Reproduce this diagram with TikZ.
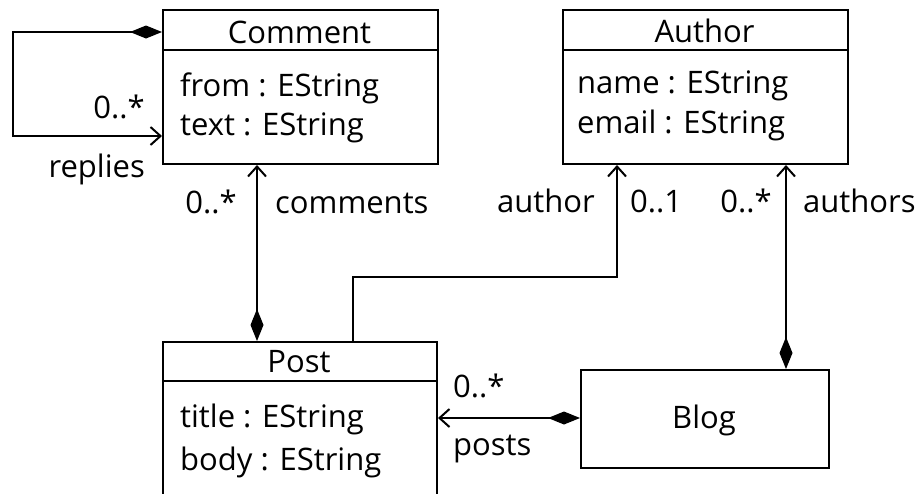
\documentclass[tikz,border=0pt]{standalone}
\usepackage{fontspec}
\setmainfont{Open Sans}
\usetikzlibrary{arrows.meta}
\begin{document}
\begin{tikzpicture}[x={(1pt,0)},y={(0,-1pt)},
  every node/.style={font=\fontsize{31}{35}\selectfont, inner sep=0pt},
  cls/.style={draw, line width=2pt, rectangle, anchor=north west},
  conn/.style={line width=2pt},
  comp/.tip={Diamond[length=32pt,width=13pt]},
  nav/.tip={Straight Barb[length=10pt,width=18pt,line width=2pt]},
  lbl/.style={anchor=base west},
  lblr/.style={anchor=base east}]
\clip (0,0) rectangle (921,493);
\useasboundingbox (0,0) rectangle (921,493);
% boxes
\node[cls, minimum width=275pt, minimum height=154pt] (comment) at (162,9) {};
\node[cls, minimum width=285pt, minimum height=154pt] (author) at (562,9) {};
\node[cls, minimum width=274pt, minimum height=200pt] (post) at (162,341) {};
\node[cls, minimum width=248pt, minimum height=98pt] (blog) at (580,369) {};
% dividers
\draw[conn] (162,50) -- (437,50);
\draw[conn] (562,50) -- (847,50);
\draw[conn] (162,381) -- (436,381);
% texts
\node[anchor=base] (tcomment) at (299.5,43) {Comment};
\node[lbl] (tfrom) at (180,96) {from : EString};
\node[lbl] (ttext) at (180,135) {text : EString};
\node[anchor=base] (tauthor) at (704.5,42) {Author};
\node[lbl] (tname) at (577,93) {name : EString};
\node[lbl] (temail) at (577,133) {email : EString};
\node[anchor=base] (tpost) at (299,372) {Post};
\node[lbl] (ttitle) at (180,427) {title : EString};
\node[lbl] (tbody) at (180,470) {body : EString};
\node[anchor=base] (tblog) at (704,428) {Blog};
% connector coordinates
\coordinate (r1) at (13,32);
\coordinate (r2) at (13,136);
\coordinate (c1) at (257,200);
\coordinate (a1) at (353,277);
\coordinate (a2) at (617,277);
\coordinate (b1) at (786,200);
\coordinate (p1) at (500,418);
% connectors
\draw[conn, comp-nav] (comment.west |- r1) -- (r1) -- (r2) -- (comment.west |- r2);
\draw[conn, comp-nav] (post.north -| c1) -- (comment.south -| c1);
\draw[conn, -nav] (post.north -| a1) -- (a1) -- (a2) -- (author.south -| a2);
\draw[conn, comp-nav] (blog.north -| b1) -- (author.south -| b1);
\draw[conn, comp-nav] (blog.west |- p1) -- (post.east |- p1);
% labels
\node[lblr] (lrm) at (145,118) {0..*};
\node[lblr] (lrr) at (145,177) {replies};
\node[lblr] (lcm) at (237,213) {0..*};
\node[lbl] (lcr) at (275,213) {comments};
\node[lblr] (lar) at (595,212) {author};
\node[lbl] (lam) at (630,212) {0..1};
\node[lblr] (lbm) at (772,212) {0..*};
\node[lbl] (lbr) at (803,212) {authors};
\node[lbl] (lpm) at (453,397) {0..*};
\node[lbl] (lpr) at (453,455) {posts};
\end{tikzpicture}
\end{document}
